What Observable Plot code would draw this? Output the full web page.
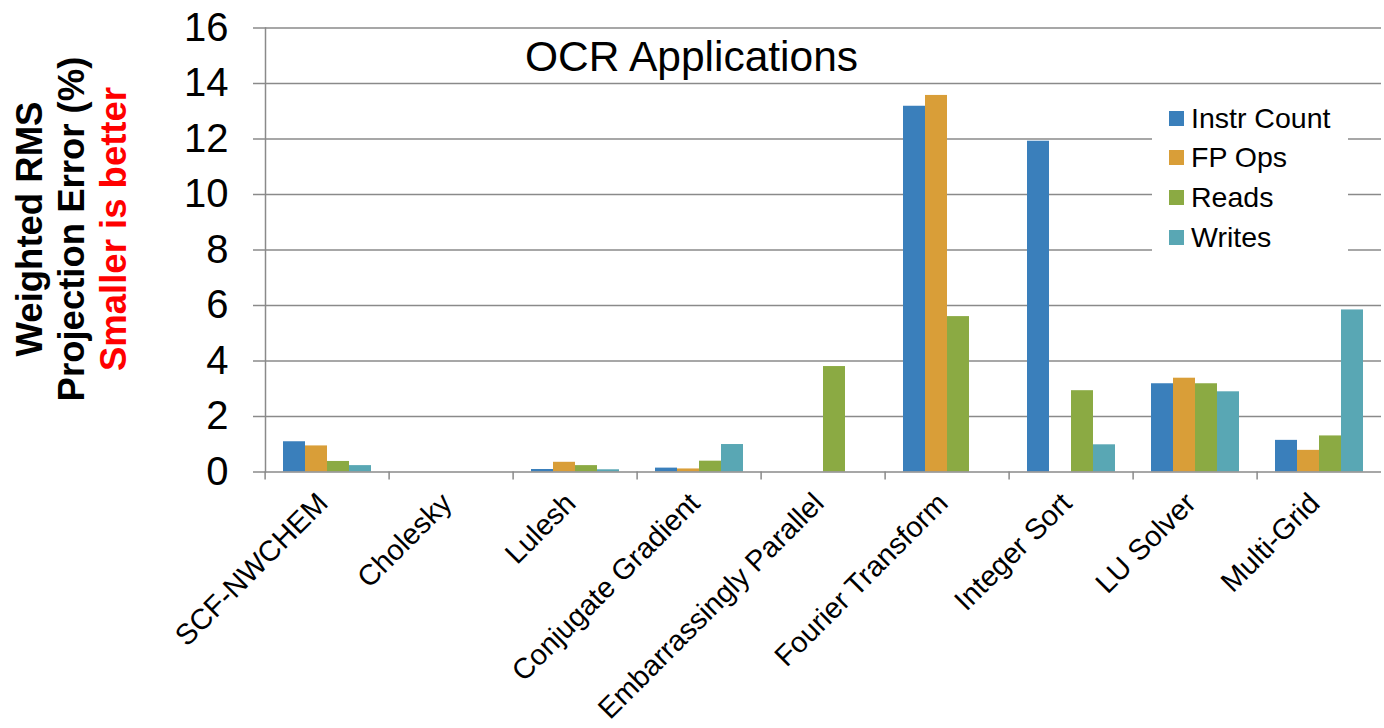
<!DOCTYPE html>
<html>
<head>
<meta charset="utf-8">
<script src="https://cdn.jsdelivr.net/npm/d3@7"></script>
<script src="https://cdn.jsdelivr.net/npm/@observablehq/plot@0.6"></script>
<style>
  body { margin: 0; background: #fff; }
  #chart { position: relative; width: 1384px; height: 728px; overflow: hidden;
           font-family: "Liberation Sans", Arial, sans-serif; }
  #chart svg { position: absolute; left: 0; top: 0; }
  .title { position: absolute; left: 525px; top: 36px; font-size: 42.5px; line-height: 42.5px; color: #000; white-space: nowrap; }
  .ytitle { position: absolute; left: -128px; top: 166px; width: 400px; height: 126px;
            transform: rotate(-90deg); text-align: center; font-weight: bold; font-size: 36.5px; line-height: 42px; }
  .ytitle .red { color: #ff0000; }
  .legend { position: absolute; left: 1152px; top: 96px; width: 196px; height: 164px; background: #fff; }
  .legend .row { position: absolute; left: 0; height: 30px; display: flex; align-items: center; white-space: nowrap; }
  .legend .sw { width: 15px; height: 15px; margin-left: 17px; margin-right: 7px; }
  .legend .lbl { font-size: 28.5px; color: #000; }
</style>
</head>
<body>
<div id="chart"></div>
<script>
// Applications on the x axis
const apps = ["SCF-NWCHEM", "Cholesky", "Lulesh", "Conjugate Gradient", "Embarrassingly Parallel",
              "Fourier Transform", "Integer Sort", "LU Solver", "Multi-Grid"];
// Metric series
const metrics = ["Instr Count", "FP Ops", "Reads", "Writes"];
const metricColors = ["#3a7fbb", "#d99e38", "#8baa43", "#59a7b4"];
// Weighted RMS projection error (%) per application
const instrCount = [1.09, 0, 0.09, 0.14, 0, 13.18, 11.92, 3.18, 1.14];
const fpOps      = [0.94, 0, 0.35, 0.11, 0, 13.57, 0, 3.38, 0.78];
const reads      = [0.38, 0, 0.23, 0.39, 3.80, 5.60, 2.93, 3.18, 1.30];
const writes     = [0.23, 0, 0.08, 0.99, 0, 0, 0.98, 2.89, 5.84];
const yTicks = [0, 2, 4, 6, 8, 10, 12, 14, 16];

const series = [instrCount, fpOps, reads, writes];
const rows = [];
apps.forEach((app, i) => metrics.forEach((m, k) => rows.push({app, metric: m, value: series[k][i]})));

const gray = "#8a8a8a";
const W = 1384, H = 728, mL = 261, mR = 0, mT = 27.5, mB = 256.5;
const halfBand = (W - mL - mR) / apps.length / 2;

const plot = Plot.plot({
  width: W, height: H,
  marginLeft: mL, marginRight: mR, marginTop: mT, marginBottom: mB,
  style: {fontFamily: "'Liberation Sans', Arial, sans-serif", background: "transparent", overflow: "visible"},
  fx: {domain: apps, padding: 0, axis: null},
  x: {domain: metrics, paddingInner: 0, paddingOuter: 0.745, axis: null},
  y: {domain: [0, 16], axis: null},
  color: {domain: metrics, range: metricColors},
  marks: [
    Plot.gridY(yTicks.filter(d => d > 0), {stroke: gray, strokeOpacity: 1, strokeWidth: 1.3}),
    Plot.barY(rows, {fx: "app", x: "metric", y: "value", fill: "metric", inset: 0}),
    Plot.ruleY([0], {stroke: gray, strokeWidth: 1.5}),
    Plot.frame({anchor: "left", facetAnchor: "left", stroke: gray, strokeWidth: 1.5}),
    Plot.axisY(yTicks, {anchor: "left", tickSize: 12, tickPadding: 25, fontSize: 40,
                        stroke: gray, strokeWidth: 1.5, fill: "black", label: null}),
    // category boundary ticks
    Plot.axisFx({anchor: "bottom", tickSize: 8, tickFormat: () => "", stroke: gray, strokeWidth: 1.5,
                 dx: -halfBand, label: null}),
    Plot.text(apps, {fx: d => d, text: d => d, frameAnchor: "bottom", rotate: -45, textAnchor: "end",
                     dx: 2, dy: 33, fontSize: 29, fill: "black"})
  ]
});

const chart = document.getElementById("chart");
chart.appendChild(plot);

const title = document.createElement("div");
title.className = "title";
title.textContent = "OCR Applications";
chart.appendChild(title);

const ytitle = document.createElement("div");
ytitle.className = "ytitle";
ytitle.innerHTML = "Weighted RMS<br>Projection Error (%)<br><span class='red'>Smaller is better</span>";
chart.appendChild(ytitle);

const legend = document.createElement("div");
legend.className = "legend";
metrics.forEach((m, k) => {
  const r = document.createElement("div");
  r.className = "row";
  r.style.top = (22 + k * 39.8 - 15) + "px";
  r.innerHTML = `<div class="sw" style="background:${metricColors[k]}"></div><span class="lbl">${m}</span>`;
  legend.appendChild(r);
});
chart.appendChild(legend);
</script>
</body>
</html>
